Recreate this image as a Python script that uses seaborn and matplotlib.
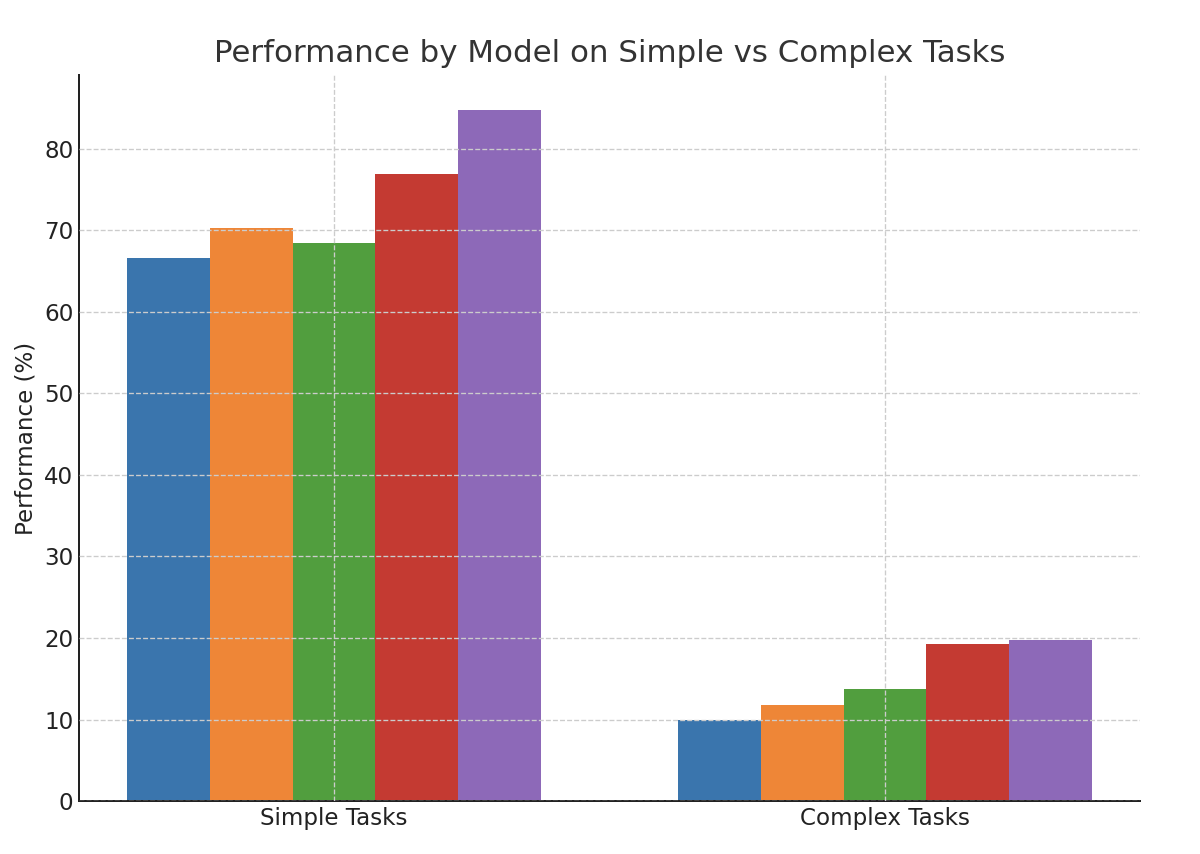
import pandas as pd
import numpy as np
import matplotlib
matplotlib.use('Agg')
import matplotlib.pyplot as plt
import seaborn as sns

# values
tasks = ['Simple Tasks', 'Complex Tasks']
models = ['Model A', 'Model B', 'Model C', 'Model D', 'Model E']
simpleScores = [66.6, 70.3, 68.5, 76.9, 84.8]
complexScores = [10.0, 11.8, 13.7, 19.3, 19.8]
barColors = ['#3a75ad', '#ee8637', '#519e3e', '#c43a32', '#8d69b8']

df = pd.DataFrame({
    'task': [tasks[0]] * len(models) + [tasks[1]] * len(models),
    'model': models + models,
    'score': simpleScores + complexScores,
})

sns.set_style('white')
plt.rcParams['font.family'] = ['DejaVu Sans']
plt.rcParams['text.color'] = '#333333'
plt.rcParams['axes.labelcolor'] = '#222222'
plt.rcParams['xtick.color'] = '#222222'
plt.rcParams['ytick.color'] = '#222222'

fig, ax = plt.subplots(figsize=(10, 854 / 120), dpi=120)
sns.barplot(data=df, x='task', y='score', hue='model', palette=barColors,
            saturation=1, width=0.75, linewidth=0, legend=False, ax=ax)

ax.set_xlim(-0.4625, 1.4625)
ax.set_ylim(0, 89.04)
ax.set_title('Performance by Model on Simple vs Complex Tasks', fontsize=18.5, pad=8)
ax.set_xlabel('')
ax.set_ylabel('Performance (%)', fontsize=13.8)
ax.tick_params(axis='both', direction='in', length=4, labelsize=13.8)
ax.grid(True, linestyle='--', color='#cccccc', linewidth=0.8)
ax.set_axisbelow(False)
for s in ['top', 'right']:
    ax.spines[s].set_visible(False)
for s in ['left', 'bottom']:
    ax.spines[s].set_color('#222222')
    ax.spines[s].set_linewidth(1.2)

plt.subplots_adjust(left=0.066, right=0.95, top=0.912, bottom=0.062)
plt.savefig('out.png', dpi=120)
